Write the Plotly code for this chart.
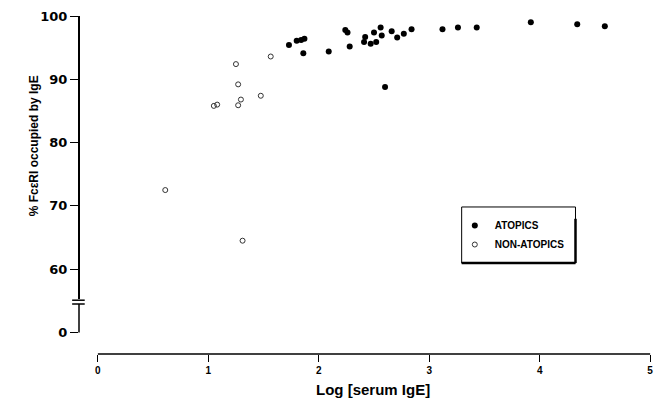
import plotly.graph_objects as go

# Data
atopic_x = [1.73, 1.80, 1.84, 1.87, 1.86, 2.09, 2.24, 2.26, 2.28, 2.41, 2.42, 2.47, 2.50, 2.52,
            2.56, 2.57, 2.66, 2.71, 2.77, 2.84, 2.60, 3.12, 3.26, 3.43, 3.92, 4.34, 4.59]
atopic_y = [95.4, 96.1, 96.2, 96.4, 94.1, 94.4, 97.8, 97.4, 95.2, 95.9, 96.7, 95.6, 97.4, 95.9,
            98.2, 96.9, 97.6, 96.6, 97.2, 97.9, 88.8, 97.9, 98.2, 98.2, 99.0, 98.7, 98.4]

nonatopic_x = [0.61, 1.31, 1.25, 1.565, 1.27, 1.475, 1.295, 1.27, 1.05, 1.08]
nonatopic_y = [72.5, 64.5, 92.4, 93.6, 89.2, 87.4, 86.8, 85.9, 85.8, 86.0]

x_ticks = [0, 1, 2, 3, 4, 5]
y_tickvals = [50, 60, 70, 80, 90, 100]   # 50 stands for the broken-axis "0"
y_ticktext = ["0", "60", "70", "80", "90", "100"]

fig = go.Figure()
fig.add_trace(go.Scatter(
    x=atopic_x, y=atopic_y, mode="markers", name="ATOPICS",
    marker=dict(symbol="circle", size=6, color="black"), cliponaxis=False))
fig.add_trace(go.Scatter(
    x=nonatopic_x, y=nonatopic_y, mode="markers", name="NON-ATOPICS",
    marker=dict(symbol="circle-open", size=5, color="#333333", line=dict(width=1)),
    cliponaxis=False))

fig.update_layout(
    width=656, height=403,
    margin=dict(l=79, r=3, t=16, b=49),
    plot_bgcolor="white", paper_bgcolor="white",
    showlegend=True,
    legend=dict(x=0.657, y=0.423, xanchor="left", yanchor="top",
                bgcolor="rgba(0,0,0,0)", borderwidth=0,
                font=dict(family="Liberation Sans", size=10, color="black", weight="bold"),
                itemwidth=30),
    xaxis=dict(range=[-0.171, 5.008], tickvals=x_ticks, ticktext=[str(v) for v in x_ticks],
               showgrid=False, zeroline=False, showline=False,
               ticks="outside", ticklen=7, tickwidth=1.2, tickcolor="black",
               tickfont=dict(family="Liberation Sans", size=10, color="black", weight="bold")),
    yaxis=dict(range=[46.6, 100.0], tickvals=y_tickvals, ticktext=y_ticktext,
               showgrid=False, zeroline=False, showline=False,
               ticks="outside", ticklen=8, tickwidth=1.2, tickcolor="black",
               tickfont=dict(family="DejaVu Sans", size=13, color="black", weight="bold")),
)

# Axis lines (broken y axis, x axis from 0 to 5)
line_style = dict(color="black", width=1.5)
fig.add_shape(type="line", xref="x", yref="paper", x0=0, x1=5, y0=0, y1=0, line=line_style)
fig.add_shape(type="line", xref="paper", yref="y", x0=0, x1=0, y0=100, y1=55.3, line=dict(color="black", width=2))
fig.add_shape(type="line", xref="paper", yref="y", x0=-0.012, x1=0.010, y0=55.1, y1=55.1, line=line_style)
fig.add_shape(type="line", xref="paper", yref="y", x0=-0.012, x1=0.010, y0=54.5, y1=54.5, line=line_style)
fig.add_shape(type="line", xref="paper", yref="y", x0=0, x1=0, y0=54.5, y1=50, line=line_style)

# Legend box with shadowed right/bottom edges
fig.add_shape(type="rect", xref="paper", yref="paper", x0=0.669, x1=0.868, y0=0.269, y1=0.435,
              line=dict(color="black", width=1))
fig.add_shape(type="line", xref="paper", yref="paper", x0=0.868, x1=0.868, y0=0.269, y1=0.40,
              line=dict(color="black", width=2.5))
fig.add_shape(type="line", xref="paper", yref="paper", x0=0.669, x1=0.868, y0=0.269, y1=0.269,
              line=dict(color="black", width=2.5))

# Axis titles
fig.add_annotation(text="% Fc\u03b5RI occupied by IgE", xref="paper", yref="paper",
                   x=-0.094, y=0.615, showarrow=False, textangle=-90,
                   font=dict(family="Liberation Sans", size=12, color="black", weight="bold"))
fig.add_annotation(text="Log [serum IgE]", xref="paper", yref="paper",
                   x=(374 - 79) / 574, y=-0.105, showarrow=False, yanchor="middle",
                   font=dict(family="Liberation Sans", size=15, color="black", weight="bold"))

fig.write_html("out.html")
